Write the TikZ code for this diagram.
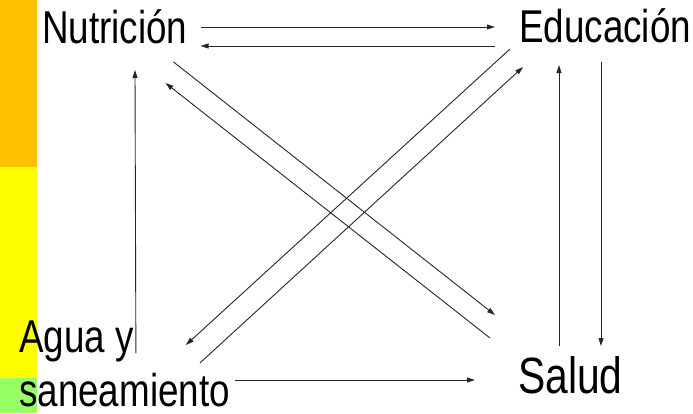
\documentclass[tikz,border=0pt]{standalone}
\usepackage{fontspec}
\setmainfont{Liberation Sans}
\usepackage{tikz}
\usetikzlibrary{arrows.meta}
\usepackage{xcolor}
\definecolor{barorange}{RGB}{255, 192, 0}
\definecolor{baryellow}{RGB}{255, 255, 0}
\definecolor{bargreen}{RGB}{153, 255, 102}
\tikzset{
    topic/.style={inner sep=0pt, anchor=base west, xscale=0.8, font=\fontsize{46}{52}\selectfont},
    linkarrow/.style={-{Triangle[length=8pt, width=5pt]}, line width=0.9pt, draw=black!85}
}

\begin{document}
\begin{tikzpicture}[x=1pt, y=-1pt]
            \useasboundingbox (0,0) rectangle (693,413);
            % coloured bar on the left
            \fill[barorange] (0,0) rectangle (37,167);
            \fill[baryellow] (0,167) rectangle (37,378);
            \fill[bargreen] (0,378) rectangle (37,413);

            \node[topic] (nutricion) at (42,43) {Nutrición};
            \node[topic] (educacion) at (519,42) {Educación};
            \node[topic, font=\fontsize{51}{56}\selectfont] (salud) at (518,393) {Salud};
            \node[topic] (agua) at (19,352) {Agua y};
            \node[topic] (saneamiento) at (19,406) {saneamiento};

            % top pair
            \draw[linkarrow] ([shift={(13,-16)}]nutricion.base east) -- ([shift={(-24,-15)}]educacion.base west);
            \draw[linkarrow] ([shift={(-24,4)}]educacion.base west) -- ([shift={(13,3)}]nutricion.base east);

            % diagonals
            \draw[linkarrow] ([shift={(-14,19)}]nutricion.base east) -- ([shift={(-23,-78)}]salud.base west);
            \draw[linkarrow] ([shift={(-28,-55)}]salud.base west) -- ([shift={(-22,40)}]nutricion.base east);
            \draw[linkarrow] ([shift={(-9,7)}]educacion.base west) -- ([shift={(52,-7)}]agua.base east);
            \draw[linkarrow] ([shift={(66,11)}]agua.base east) -- ([shift={(4,25)}]educacion.base west);

            % verticals
            \draw[linkarrow] ([shift={(2,1)}]agua.base east) -- ([shift={(93,27)}]nutricion.base west);
            \draw[linkarrow] ([shift={(41,-47)}]salud.base west) -- ([shift={(40,23)}]educacion.base west);
            \draw[linkarrow] ([shift={(82,20)}]educacion.base west) -- ([shift={(83,-47)}]salud.base west);

            % bottom
            \draw[linkarrow] ([shift={(5,-26)}]saneamiento.base east) -- ([shift={(-43,-13)}]salud.base west);
        \end{tikzpicture}
\end{document}
